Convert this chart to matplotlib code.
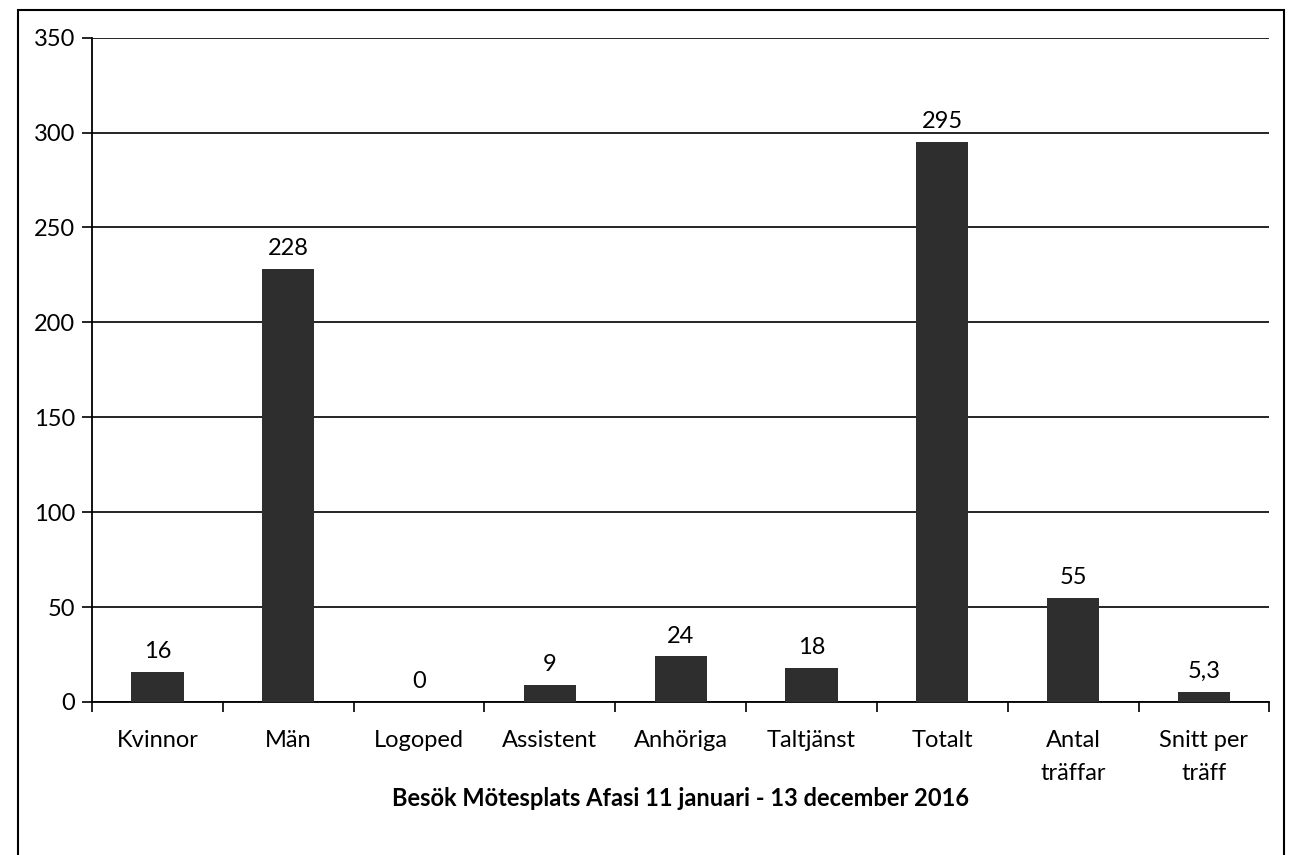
import matplotlib.pyplot as plt
from matplotlib.patches import Rectangle

categories = ['Kvinnor', 'Män', 'Logoped', 'Assistent', 'Anhöriga', 'Taltjänst',
              'Totalt', 'Antal\nträffar', 'Snitt per\nträff']
values = [16, 228, 0, 9, 24, 18, 295, 55, 5.3]
labels = ['16', '228', '0', '9', '24', '18', '295', '55', '5,3']
y_ticks = [0, 50, 100, 150, 200, 250, 300, 350]

plt.rcParams['font.family'] = ['Lato', 'DejaVu Sans']

fig = plt.figure(figsize=(13.01, 8.55), dpi=100)
ax = fig.add_axes([0.0707, 0.179, 0.905, 0.777])

x = list(range(len(categories)))
bars = ax.bar(x, values, width=0.4, color='#2e2e2e', zorder=3)

# value labels above bars
for b, lab in zip(bars, labels):
    ax.annotate(lab, (b.get_x() + b.get_width() / 2, b.get_height()),
                xytext=(0, 7), textcoords='offset points',
                ha='center', va='bottom', fontsize=17)

ax.set_xlim(-0.5, len(categories) - 0.5)
ax.set_ylim(0, 350)
ax.set_yticks(y_ticks)
ax.yaxis.grid(True, color='black', linewidth=1.2, zorder=0)

# ticks at category boundaries, labels centred
ax.set_xticks([i - 0.5 for i in range(len(categories) + 1)])
ax.set_xticklabels([])
ax.set_xticks(x, minor=True)
ax.set_xticklabels(categories, minor=True, fontsize=17, linespacing=1.75)
ax.tick_params(axis='x', which='minor', length=0, pad=20)
ax.tick_params(axis='x', which='major', length=7, width=1.2, direction='out')
ax.tick_params(axis='y', length=7, width=1.2, labelsize=17, pad=5)

for side in ['top', 'right']:
    ax.spines[side].set_visible(False)
for side in ['left', 'bottom']:
    ax.spines[side].set_linewidth(1.3)

ax.set_xlabel('Besök Mötesplats Afasi 11 januari - 13 december 2016',
              fontsize=17, fontweight='bold', labelpad=2)

# outer chart border
fig.patches.append(Rectangle((0.014, -0.01), 0.973, 0.998, transform=fig.transFigure,
                             fill=False, edgecolor='black', linewidth=1.5))

fig.savefig('out.png', dpi=100)
